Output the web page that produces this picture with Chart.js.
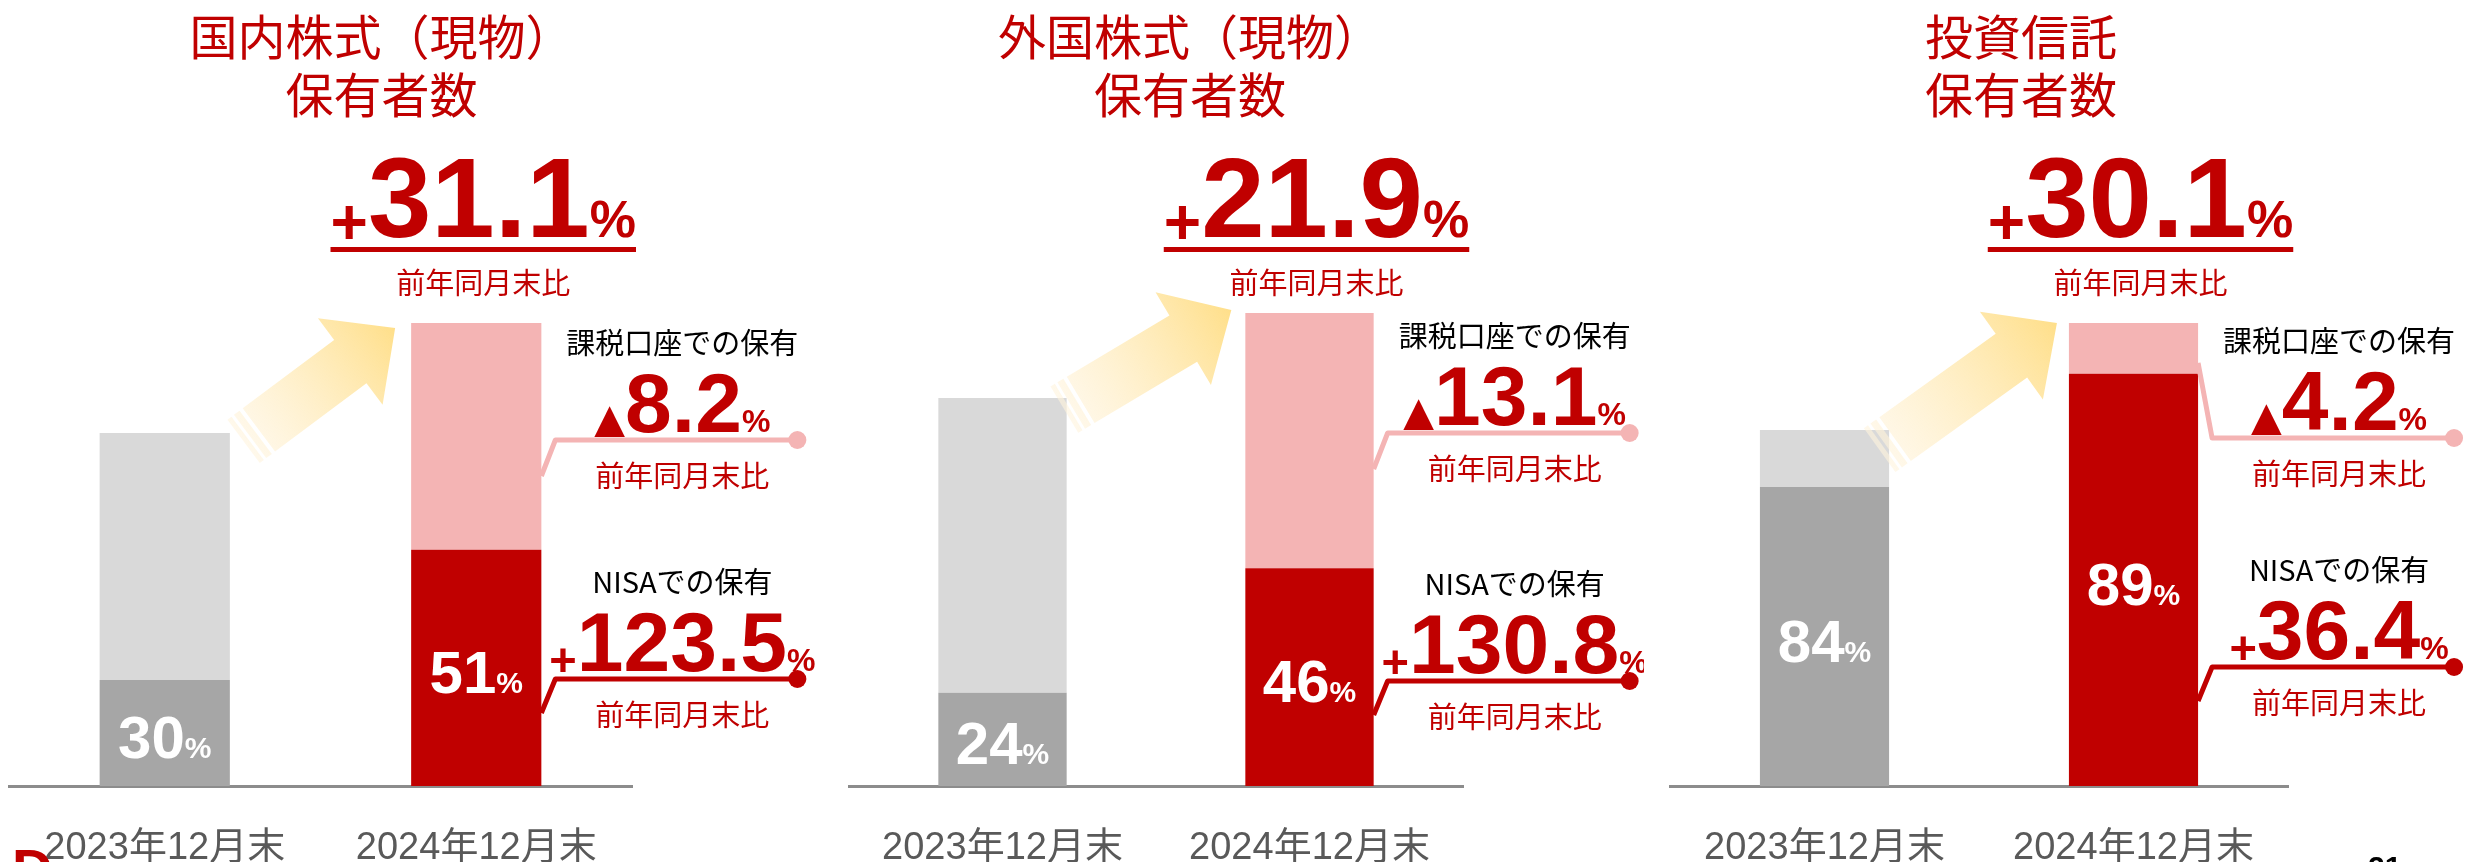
<!DOCTYPE html>
<html lang="ja">
<head>
<meta charset="utf-8">
<script src="https://cdn.jsdelivr.net/npm/chart.js@4.4.1/dist/chart.umd.min.js"></script>
<style>
  html, body { margin: 0; padding: 0; background: #fff; }
  body { width: 2466px; height: 862px; overflow: hidden; position: relative; }
  canvas { position: absolute; top: 0; }
  .pageMark { position: absolute; font-family: "Liberation Sans", Arial, sans-serif; font-weight: bold; }
</style>
</head>
<body>
<canvas id="panel0" width="822" height="862" style="left:0px"></canvas>
<canvas id="panel1" width="822" height="862" style="left:822px"></canvas>
<canvas id="panel2" width="822" height="862" style="left:1644px"></canvas>
<div class="pageMark" style="left:12px; top:836px; font-size:56px; color:#c00000;">D</div>
<div class="pageMark" style="left:2368px; top:850px; font-size:30px; color:#000;">21</div>
<script>
// ---- data (2023年12月末 total = 100) ----
const categories = ['2023年12月末', '2024年12月末'];
const panelTitles = [['国内株式（現物）', '保有者数'], ['外国株式（現物）', '保有者数'], ['投資信託', '保有者数']];
const nisaHolders = [[30, 66.9], [24, 56.1], [84, 115.8]];
const taxableHolders = [[70, 64.2], [76, 65.8], [16, 14.3]];
const nisaShare = [[30, 51], [24, 46], [84, 89]];
const totalChange = [31.1, 21.9, 30.1];
const taxableChange = [-8.2, -13.1, -4.2];
const nisaChange = [123.5, 130.8, 36.4];

// ---- layout / styling ----
const RED = '#c00000';
const PINK = '#f4b4b4';
const nisaColors = ['#a6a6a6', RED];
const taxableColors = ['#d9d9d9', PINK];
const JP = '"Noto Sans CJK JP", sans-serif';
const NUM = '"Liberation Sans", Arial, sans-serif';

const panels = [
  { padL: 9,  padR: 190, yMax: 151.8, titleDx: 61, tail: [29, -3], tip: [-16, 5], lineY: [440, 679] },
  { padL: 27, padR: 181, yMax: 138.1, titleDx: 34, tail: [14, 2],  tip: [-14, -3], lineY: [433, 681] },
  { padL: 26, padR: 178, yMax: 150.6, titleDx: 42, tail: [6, 9],   tip: [-12, 0], lineY: [438, 667] },
];

function drawParts(ctx, parts, cx, baseline) {
  let total = 0;
  parts.forEach(p => { ctx.font = p.font; p.w = ctx.measureText(p.t).width; total += p.w; });
  let x = cx - total / 2;
  ctx.textAlign = 'left';
  ctx.textBaseline = 'alphabetic';
  parts.forEach(p => {
    ctx.font = p.font;
    ctx.fillStyle = p.color;
    ctx.fillText(p.t, x, baseline + (p.dy || 0));
    x += p.w;
  });
  return { left: cx - total / 2, right: cx + total / 2 };
}

function signParts(v, size, pctSize) {
  const parts = [];
  if (v < 0) parts.push({ t: '▲', font: `bold ${Math.round(size * 0.48)}px "DejaVu Sans"`, color: RED });
  else parts.push({ t: '+', font: `bold ${Math.round(size * 0.56)}px ${NUM}`, color: RED, dy: Math.round(size * 0.06) });
  parts.push({ t: Math.abs(v).toFixed(1), font: `bold ${size}px ${NUM}`, color: RED });
  parts.push({ t: '%', font: `bold ${pctSize}px ${NUM}`, color: RED });
  return parts;
}

function drawArrow(ctx, tail, tip) {
  const dx = tip[0] - tail[0], dy = tip[1] - tail[1];
  const len = Math.hypot(dx, dy);
  const hw = 27, hh = 54, hl = 56;
  ctx.save();
  ctx.translate(tail[0], tail[1]);
  ctx.rotate(Math.atan2(dy, dx));
  const g = ctx.createLinearGradient(-20, 0, len, 0);
  g.addColorStop(0, 'rgba(255,244,222,0.6)');
  g.addColorStop(1, '#ffdf8a');
  ctx.fillStyle = g;
  ctx.beginPath();
  ctx.moveTo(0, -hw);
  ctx.lineTo(len - hl, -hw);
  ctx.lineTo(len - hl, -hh);
  ctx.lineTo(len, 0);
  ctx.lineTo(len - hl, hh);
  ctx.lineTo(len - hl, hw);
  ctx.lineTo(0, hw);
  ctx.closePath();
  ctx.fill();
  ctx.fillRect(-11, -hw, 7, hw * 2);
  ctx.fillRect(-19, -hw, 5, hw * 2);
  ctx.restore();
}

function drawCallout(ctx, color, R, startY, lineY, label, value) {
  ctx.save();
  ctx.strokeStyle = color;
  ctx.fillStyle = color;
  ctx.lineWidth = 5;
  ctx.lineJoin = 'round';
  ctx.beginPath();
  ctx.moveTo(R, startY);
  ctx.lineTo(R + 14, lineY);
  ctx.lineTo(R + 256, lineY);
  ctx.stroke();
  ctx.beginPath();
  ctx.arc(R + 256, lineY, 9, 0, Math.PI * 2);
  ctx.fill();
  ctx.restore();

  const cx = R + 141;
  ctx.textAlign = 'center';
  ctx.textBaseline = 'middle';
  ctx.font = `29px ${JP}`;
  ctx.fillStyle = '#000';
  ctx.fillText(label, cx, lineY - 97);
  drawParts(ctx, signParts(value, 84, 32), cx, lineY - 8);
  ctx.textAlign = 'center';
  ctx.textBaseline = 'middle';
  ctx.font = `29px ${JP}`;
  ctx.fillStyle = RED;
  ctx.fillText('前年同月末比', cx, lineY + 36);
}

const annotations = {
  id: 'annotations',
  afterDatasetsDraw(chart) {
    const i = chart.options.panelIndex;
    const cfg = panels[i];
    const ctx = chart.ctx;
    const area = chart.chartArea;
    const nisaMeta = chart.getDatasetMeta(0).data;
    const taxMeta = chart.getDatasetMeta(1).data;
    const b1 = taxMeta[0], b2 = taxMeta[1];
    const half = b1.width / 2;

    // title
    ctx.save();
    ctx.textAlign = 'center';
    ctx.textBaseline = 'middle';
    ctx.font = `48px ${JP}`;
    ctx.fillStyle = RED;
    const tx = (area.left + area.right) / 2 + cfg.titleDx;
    ctx.fillText(panelTitles[i][0], tx, 37);
    ctx.fillText(panelTitles[i][1], tx, 95);

    // headline change
    const hx = b2.x + 7;
    const span = drawParts(ctx, signParts(totalChange[i], 114, 52), hx, 237);
    ctx.fillStyle = RED;
    ctx.fillRect(span.left, 247, span.right - span.left, 5);
    ctx.textAlign = 'center';
    ctx.textBaseline = 'middle';
    ctx.font = `29px ${JP}`;
    ctx.fillText('前年同月末比', hx, 283);

    // arrow between bars
    drawArrow(ctx, [b1.x + half + cfg.tail[0], b1.y + cfg.tail[1]], [b2.x - half + cfg.tip[0], b2.y + cfg.tip[1]]);

    // NISA share labels inside the bars
    nisaMeta.forEach((bar, k) => {
      const mid = (bar.y + bar.base) / 2;
      drawParts(ctx, [
        { t: String(nisaShare[i][k]), font: `bold 60px ${NUM}`, color: '#fff' },
        { t: '%', font: `bold 30px ${NUM}`, color: '#fff' },
      ], bar.x, mid + 25);
    });

    // callouts
    const R = b2.x + half;
    const pinkStart = Math.min(cfg.lineY[0] + 36, nisaMeta[1].y - 11);
    drawCallout(ctx, PINK, R, pinkStart, cfg.lineY[0], '課税口座での保有', taxableChange[i]);
    drawCallout(ctx, RED, R, cfg.lineY[1] + 34, cfg.lineY[1], 'NISAでの保有', nisaChange[i]);
    ctx.restore();
  }
};

panels.forEach((cfg, i) => {
  new Chart(document.getElementById('panel' + i), {
    type: 'bar',
    data: {
      labels: categories,
      datasets: [
        { label: 'NISA', data: nisaHolders[i], backgroundColor: nisaColors, borderWidth: 0 },
        { label: '課税口座', data: taxableHolders[i], backgroundColor: taxableColors, borderWidth: 0 },
      ]
    },
    options: {
      panelIndex: i,
      responsive: false,
      animation: false,
      devicePixelRatio: 1,
      events: [],
      layout: { padding: { left: cfg.padL, right: cfg.padR, top: 250, bottom: 0 } },
      datasets: { bar: { barPercentage: 0.418, categoryPercentage: 1 } },
      plugins: { legend: { display: false }, tooltip: { enabled: false }, title: { display: false } },
      scales: {
        x: {
          stacked: true,
          grid: { display: false, drawTicks: false },
          border: { display: true, color: '#8c8c8c', width: 3 },
          ticks: {
            color: '#595959',
            font: { family: '"Liberation Sans", "Noto Sans CJK JP", sans-serif', size: 38 },
            padding: 40,
            maxRotation: 0,
            autoSkip: false
          },
          afterFit(scale) { scale.height = 76; }
        },
        y: { stacked: true, display: false, min: 0, max: cfg.yMax }
      }
    },
    plugins: [annotations]
  });
});
</script>
</body>
</html>
